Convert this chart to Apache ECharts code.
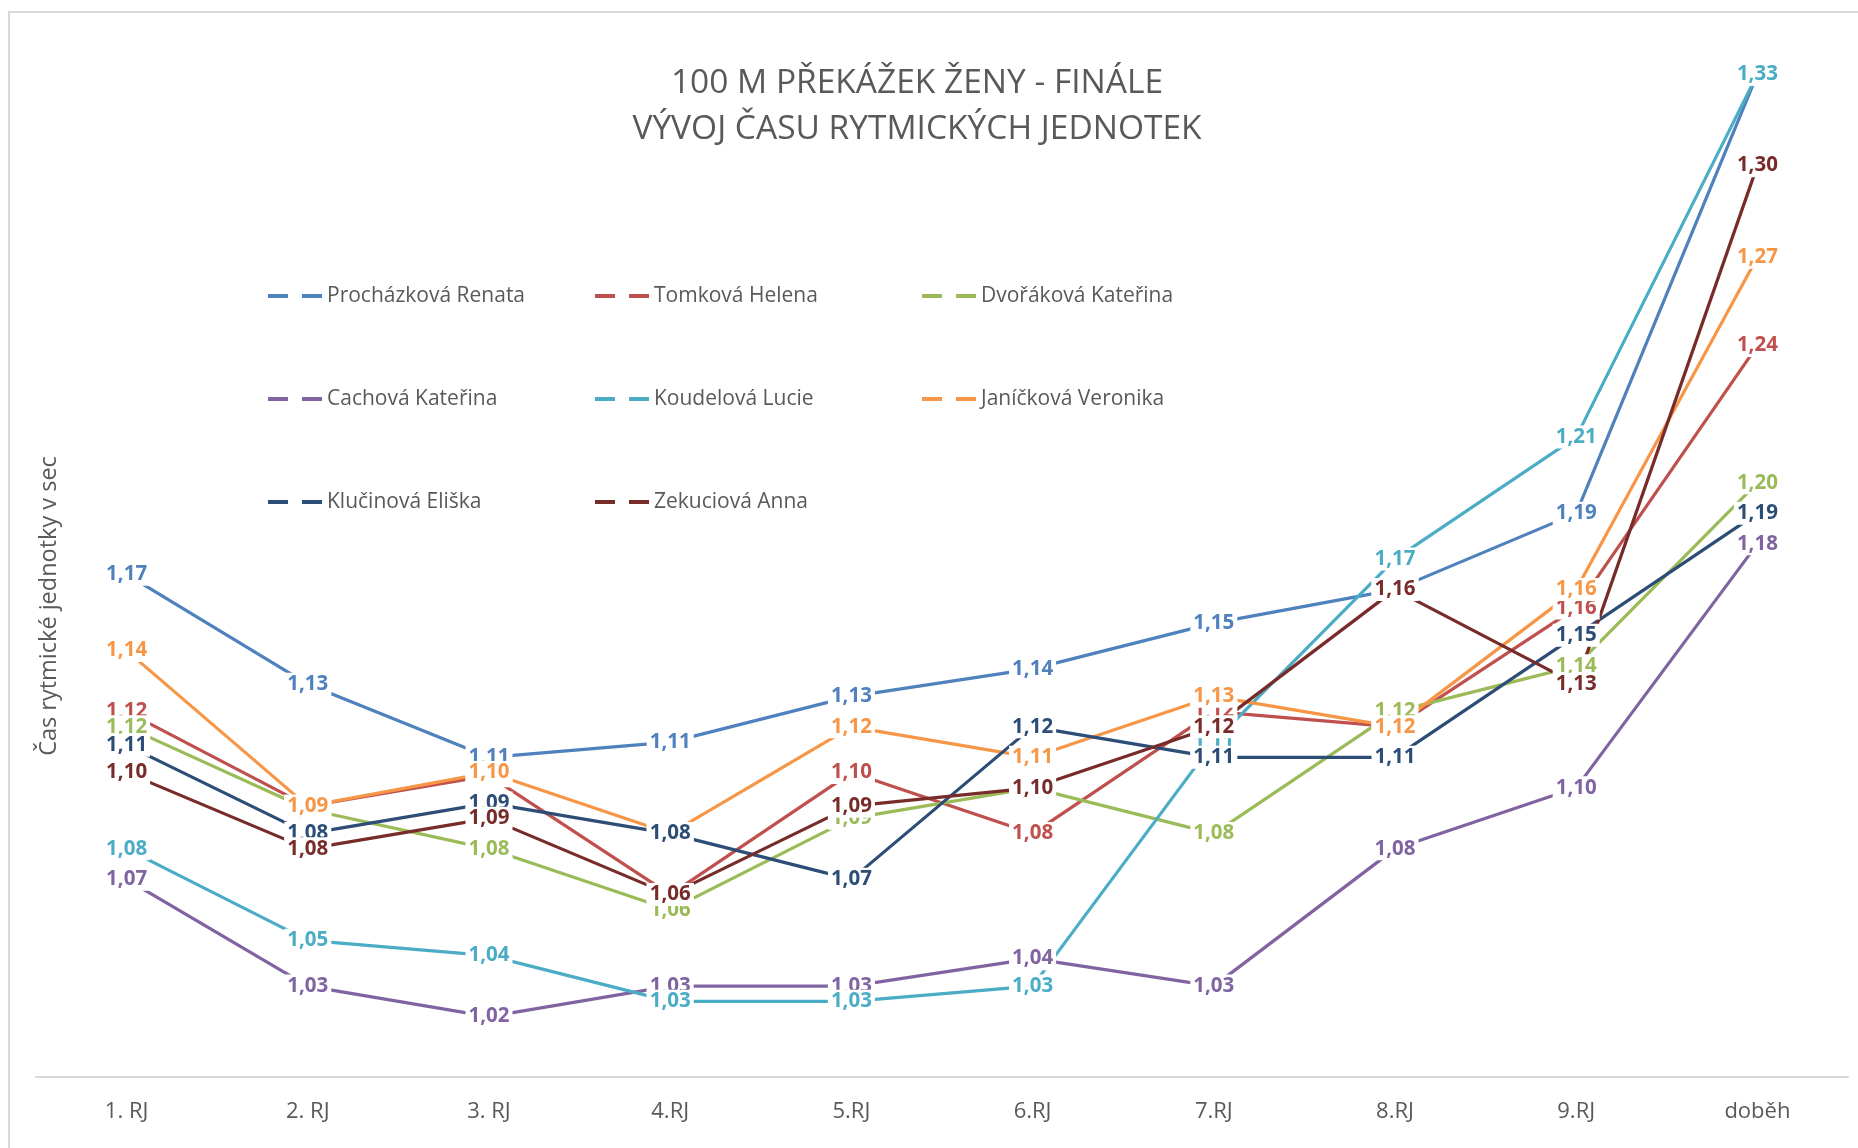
<!DOCTYPE html>
<html>
<head>
<meta charset="utf-8">
<script src="https://cdn.jsdelivr.net/npm/echarts@6/dist/echarts.min.js"></script>
<style>
  html, body { margin: 0; padding: 0; background: #fff; }
  #chart { width: 1858px; height: 1148px; }
</style>
</head>
<body>
<div id="chart"></div>
<script>
const categories = ['1. RJ', '2. RJ', '3. RJ', '4.RJ', '5.RJ', '6.RJ', '7.RJ', '8.RJ', '9.RJ', 'doběh'];

const seriesNames = [
  'Procházková Renata', 'Tomková Helena', 'Dvořáková Kateřina',
  'Cachová Kateřina', 'Koudelová Lucie', 'Janíčková Veronika',
  'Klučinová Eliška', 'Zekuciová Anna'
];

const prochazkova = [1.168, 1.132, 1.108, 1.113, 1.128, 1.137, 1.152, 1.163, 1.188, 1.332];
const tomkova     = [1.123, 1.092, 1.102, 1.063, 1.103, 1.083, 1.123, 1.118, 1.157, 1.243];
const dvorakova   = [1.118, 1.091, 1.078, 1.058, 1.088, 1.098, 1.083, 1.123, 1.138, 1.198];
const cachova     = [1.068, 1.033, 1.023, 1.033, 1.033, 1.042, 1.033, 1.078, 1.098, 1.178];
const koudelova   = [1.078, 1.048, 1.043, 1.028, 1.028, 1.033, 1.113, 1.173, 1.213, 1.332];
const janickova   = [1.143, 1.092, 1.103, 1.083, 1.118, 1.108, 1.128, 1.118, 1.163, 1.272];
const klucinova   = [1.112, 1.083, 1.093, 1.083, 1.068, 1.118, 1.108, 1.108, 1.148, 1.188];
const zekuciova   = [1.103, 1.078, 1.088, 1.063, 1.092, 1.098, 1.118, 1.163, 1.132, 1.302];

const seriesData = [prochazkova, tomkova, dvorakova, cachova, koudelova, janickova, klucinova, zekuciova];
const colors = ['#4F81BD', '#C0504D', '#9BBB59', '#8064A2', '#4BACC6', '#F79646', '#2C4D75', '#772C2A'];

const FONT = '"Open Sans", "Noto Sans", sans-serif';
const GRAY = '#595959';

const chart = echarts.init(document.getElementById('chart'), null, { renderer: 'canvas' });

const series = seriesNames.map((name, i) => ({
  name: name,
  type: 'line',
  data: seriesData[i],
  symbol: 'circle',
  symbolSize: 1,
  showSymbol: true,
  showAllSymbol: true,
  lineStyle: { color: colors[i], width: 3.2 },
  itemStyle: { color: colors[i] },
  emphasis: { disabled: true },
  label: {
    show: true,
    position: 'inside',
    formatter: p => p.value.toFixed(2).replace('.', ','),
    color: colors[i],
    fontFamily: FONT,
    fontWeight: 'bold',
    fontSize: 20.5,
    backgroundColor: '#ffffff',
    padding: [1, 3]
  }
}));

const dashIcon = 'path://M0,0h20v4h-20z M34,0h20v4h-20z';
function legendCol(names, left) {
  return {
    data: names,
    orient: 'vertical',
    left: left,
    top: 284,
    padding: 0,
    itemGap: 79,
    itemWidth: 54,
    itemHeight: 24,
    icon: dashIcon,
    selectedMode: false,
    textStyle: { fontFamily: FONT, fontSize: 21, color: GRAY, lineHeight: 24 }
  };
}

const option = {
  animation: false,
  backgroundColor: '#ffffff',
  color: colors,
  title: {
    text: '100 M PŘEKÁŽEK ŽENY - FINÁLE\nVÝVOJ ČASU RYTMICKÝCH JEDNOTEK',
    left: 912,
    textAlign: 'center',
    top: 55,
    textStyle: { fontFamily: FONT, fontSize: 33.5, fontWeight: 'normal', color: GRAY, lineHeight: 46 }
  },
  legend: [
    legendCol([seriesNames[0], seriesNames[3], seriesNames[6]], 268),
    legendCol([seriesNames[1], seriesNames[4], seriesNames[7]], 595),
    legendCol([seriesNames[2], seriesNames[5]], 922)
  ],
  grid: { left: 36, right: 10, top: 19.25, bottom: 61.25, containLabel: false },
  xAxis: {
    type: 'category',
    data: categories,
    boundaryGap: true,
    offset: -10,
    axisLine: { show: true, lineStyle: { color: '#D9D9D9', width: 2 } },
    axisTick: { show: false },
    axisLabel: { fontFamily: FONT, fontSize: 22, color: GRAY, margin: 24 },
    splitLine: { show: false }
  },
  yAxis: {
    type: 'value',
    min: 1.0,
    max: 1.35,
    axisLine: { show: false },
    axisTick: { show: false },
    axisLabel: { show: false },
    splitLine: { show: false }
  },
  graphic: [
    {
      type: 'rect',
      z: -10,
      silent: true,
      shape: { x: 9, y: 12, width: 1870, height: 1160 },
      style: { fill: 'none', stroke: '#D9D9D9', lineWidth: 2 }
    },
    {
      type: 'text',
      x: 49,
      y: 606,
      rotation: Math.PI / 2,
      silent: true,
      style: {
        text: 'Čas rytmické jednotky v sec',
        fontFamily: FONT,
        fontSize: 23.5,
        fill: GRAY,
        align: 'center',
        verticalAlign: 'middle'
      }
    }
  ],
  series: series
};

chart.setOption(option);
</script>
</body>
</html>
